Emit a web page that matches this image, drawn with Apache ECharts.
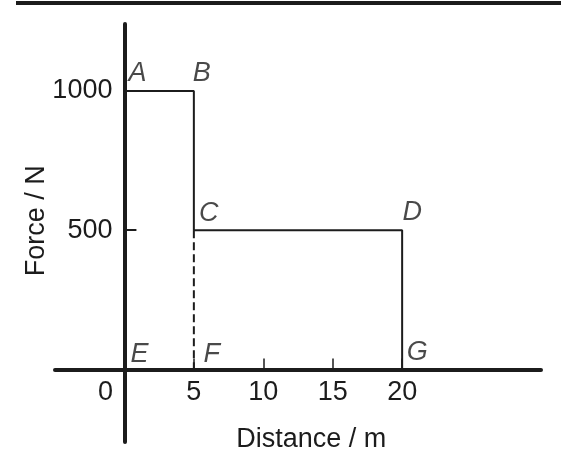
<!DOCTYPE html>
<html>
<head>
<meta charset="utf-8">
<script src="https://cdn.jsdelivr.net/npm/echarts@6/dist/echarts.min.js"></script>
<style>
html,body{margin:0;padding:0;background:#fff;}
#chart{width:561px;height:469px;}
</style>
</head>
<body>
<div id="chart"></div>
<script>
// ---- data ----
var xTickValues = [5, 10, 15, 20];
var xLabelValues = [0, 5, 10, 15, 20];
var yTickValues = [500, 1000];
var yLabelValues = [500, 1000];
// solid force-distance path A-B-C-D-G
var pathPoints = [[0, 1000], [5, 1000], [5, 500], [20, 500], [20, 0]];
// dashed drop C-F
var dashedPoints = [[5, 500], [5, 0]];
// corner letters
var pointNames = ['A', 'B', 'C', 'D', 'E', 'F', 'G'];
var pointX = [0, 5, 5, 20, 0, 5, 20];
var pointY = [1000, 1000, 500, 500, 0, 0, 0];

// ---- style ----
var INK = '#1c1c1c';
var FONT = "'Liberation Sans', Arial, Helvetica, sans-serif";
var FS = 27;
var labelOffsets = {A:[13,-17], B:[8,-17], C:[15,-17], D:[10,-18], E:[15,-15], F:[18,-15], G:[15,-17]};

var X_MIN = -5, X_MAX = 30, Y_MIN = -260, Y_MAX = 1240;
var G_LEFT = 55, G_RIGHT = 20, G_TOP = 24, G_BOTTOM = 27;
var W = 561, H = 469;
var pxX0 = G_LEFT + (0 - X_MIN) / (X_MAX - X_MIN) * (W - G_LEFT - G_RIGHT);
var pxY0 = G_TOP + (Y_MAX - 0) / (Y_MAX - Y_MIN) * (H - G_TOP - G_BOTTOM);

var letterData = pointNames.map(function (n, i) {
  return { value: [pointX[i], pointY[i]], name: n, label: { offset: labelOffsets[n] } };
});

var chart = echarts.init(document.getElementById('chart'), null, {renderer: 'canvas'});
chart.setOption({
  animation: false,
  backgroundColor: '#fff',
  grid: [
    { left: G_LEFT, right: G_RIGHT, top: G_TOP, bottom: G_BOTTOM, containLabel: false, outerBoundsMode: 'none' },
    { left: pxX0, right: G_RIGHT, top: G_TOP, bottom: H - pxY0, containLabel: false, outerBoundsMode: 'none' }
  ],
  graphic: [{
    type: 'line',
    shape: { x1: 16, y1: 3, x2: 561, y2: 3 },
    style: { stroke: INK, lineWidth: 4 }
  }],
  xAxis: [{
    gridIndex: 0, type: 'value', min: X_MIN, max: X_MAX, interval: 5,
    axisLine: { onZero: true, lineStyle: { color: INK, width: 4 } },
    axisTick: { show: true, inside: true, length: 11, customValues: xTickValues,
      lineStyle: { color: INK, width: 1.5 } },
    axisLabel: { show: false },
    splitLine: { show: false }
  }, {
    gridIndex: 1, type: 'value', min: 0, max: X_MAX, interval: 5,
    axisLine: { show: false }, axisTick: { show: false }, splitLine: { show: false },
    axisLabel: {
      customValues: xLabelValues, margin: 10,
      color: INK, fontFamily: FONT, fontSize: FS,
      formatter: function (v) { return v === 0 ? '{z|0}' : String(v); },
      rich: { z: { padding: [0, 38, 0, 0], color: INK, fontFamily: FONT, fontSize: FS } }
    },
    name: 'Distance / m', nameLocation: 'middle', nameGap: 57,
    nameTextStyle: { color: INK, fontFamily: FONT, fontSize: FS, padding: [0, 43, 0, 0] }
  }],
  yAxis: [{
    gridIndex: 0, type: 'value', min: Y_MIN, max: Y_MAX,
    axisLine: { onZero: true, lineStyle: { color: INK, width: 4 } },
    axisTick: { show: true, inside: true, length: 12, customValues: yTickValues,
      lineStyle: { color: INK, width: 2 } },
    axisLabel: { show: false },
    splitLine: { show: false }
  }, {
    gridIndex: 1, type: 'value', min: 0, max: Y_MAX,
    axisLine: { show: false }, axisTick: { show: false }, splitLine: { show: false },
    axisLabel: {
      customValues: yLabelValues, margin: 12,
      color: INK, fontFamily: FONT, fontSize: FS,
      formatter: function (v) { return String(v); }
    },
    name: 'Force / N', nameLocation: 'middle', nameGap: 74, nameRotate: 90,
    nameMoveOverlap: false,
    nameTextStyle: { color: INK, fontFamily: FONT, fontSize: FS, padding: [0, 48, 0, 0] }
  }],
  series: [
    {
      type: 'line', xAxisIndex: 0, yAxisIndex: 0, data: pathPoints, symbol: 'none',
      lineStyle: { color: INK, width: 2 }, z: 3
    },
    {
      type: 'line', xAxisIndex: 0, yAxisIndex: 0, data: dashedPoints, symbol: 'none',
      lineStyle: { color: INK, width: 2, type: [8, 4] }, z: 3
    },
    {
      type: 'scatter', xAxisIndex: 0, yAxisIndex: 0, data: letterData, symbolSize: 0,
      label: {
        show: true, position: 'inside',
        formatter: function (p) { return p.name; },
        color: INK, fontFamily: FONT, fontSize: FS, fontStyle: 'italic'
      },
      z: 4
    }
  ]
});
</script>
</body>
</html>
